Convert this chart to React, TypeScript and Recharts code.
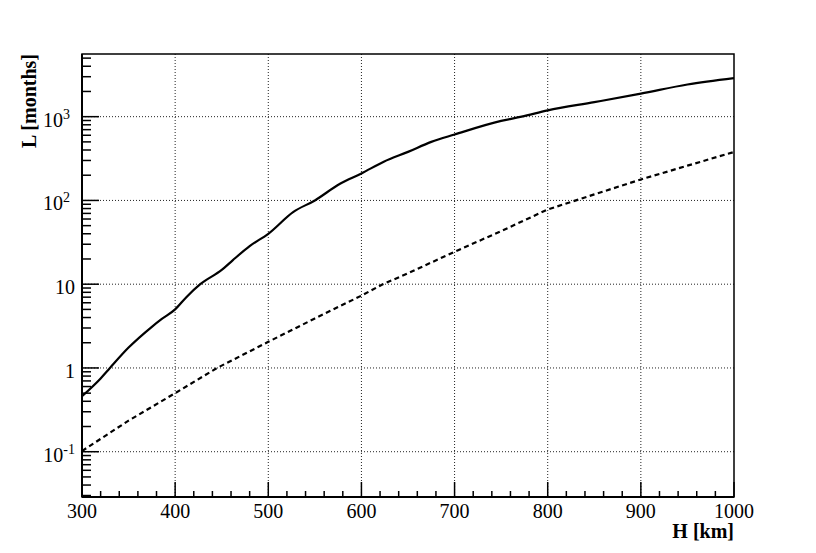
import {
  LineChart,
  Line,
  XAxis,
  YAxis,
  CartesianGrid,
  ReferenceArea,
  Label,
} from 'recharts'

// solid curve
const solidH = [300, 320, 330, 350, 375, 385, 400, 412, 427, 450, 462, 480, 500, 527, 550, 577, 600, 624, 650, 675, 700, 750, 772, 800, 850, 900, 950, 1000]
const solidL = [0.46, 0.75, 1.0, 1.75, 3.1, 3.8, 5.0, 7.0, 10, 14.8, 19.4, 28.5, 40, 73, 100, 158, 210, 290, 380, 500, 612, 890, 1000, 1190, 1490, 1880, 2420, 2880]

// dashed curve
const dashH = [300, 350, 400, 445, 500, 550, 600, 623, 650, 700, 750, 800, 850, 900, 950, 1000]
const dashL = [0.102, 0.235, 0.5, 1.0, 2.05, 3.9, 7.3, 10, 13.5, 24.4, 43, 78, 118, 178, 260, 379]

const xMajorTicks = [300, 400, 500, 600, 700, 800, 900, 1000]
const xMinorSteps = [20, 40, 60, 80]
const yMajorTicks = [0.1, 1, 10, 100, 1000]
const yMinorTicks = [
  0.03, 0.04, 0.05, 0.06, 0.07, 0.08, 0.09,
  0.2, 0.3, 0.4, 0.5, 0.6, 0.7, 0.8, 0.9,
  2, 3, 4, 5, 6, 7, 8, 9,
  20, 30, 40, 50, 60, 70, 80, 90,
  200, 300, 400, 500, 600, 700, 800, 900,
  2000, 3000, 4000, 5000,
]
const yLabels: Record<string, [string, string]> = {
  '0.1': ['10', '-1'],
  '1': ['1', ''],
  '10': ['10', ''],
  '100': ['10', '2'],
  '1000': ['10', '3'],
}

const xDomain: [number, number] = [300, 1000]
const yDomain: [number, number] = [0.0288, 5600]

const solidData = solidH.map((h, i) => ({ H: h, L: solidL[i] }))
const dashData = dashH.map((h, i) => ({ H: h, L: dashL[i] }))
const xMinorTicks = xMajorTicks.slice(0, -1).flatMap((m) => xMinorSteps.map((s) => m + s))
const xTicks = [...xMajorTicks, ...xMinorTicks].sort((a, b) => a - b)
const yTicks = [...yMajorTicks, ...yMinorTicks].sort((a, b) => a - b)

const FONT = '"Liberation Serif", "Times New Roman", serif'

function XTick(props: any) {
  const { x, y, payload } = props
  const major = xMajorTicks.includes(payload.value)
  const len = major ? 15 : 6
  return (
    <g>
      <line x1={x} x2={x} y1={y} y2={y - len} stroke="#000" strokeWidth={1.5} />
      {major && (
        <text x={x} y={y + 21} textAnchor="middle" fontSize={20} fontFamily={FONT} fill="#000">
          {payload.value}
        </text>
      )}
    </g>
  )
}

function YTick(props: any) {
  const { x, y, payload } = props
  const major = yMajorTicks.includes(payload.value)
  const len = major ? 17 : 9
  const lab = yLabels[String(payload.value)]
  const end = lab && lab[1] && lab[1] !== '-1' ? x - 12 : x - 7
  return (
    <g>
      <line x1={x} x2={x + len} y1={y} y2={y} stroke="#000" strokeWidth={1.5} />
      {major && lab && (
        <text x={end} y={y + 10} textAnchor="end" fontSize={20} fontFamily={FONT} fill="#000">
          {lab[0]}
          {lab[1] && (
            <tspan dy={-8} fontSize={14}>
              {lab[1]}
            </tspan>
          )}
        </text>
      )}
    </g>
  )
}

export default function App() {
  return (
    <div
      style={{
        position: 'absolute',
        left: 0,
        top: 0,
        width: 816,
        height: 553,
        background: '#fff',
      }}
    >
      <LineChart width={816} height={553} margin={{ top: 54, right: 82, bottom: 0, left: 0 }}>
        <CartesianGrid
          horizontalValues={yMajorTicks}
          verticalValues={xMajorTicks.slice(1, -1)}
          stroke="#222"
          strokeDasharray="1 2"
          strokeWidth={1}
        />
        <XAxis
          dataKey="H"
          type="number"
          domain={xDomain}
          allowDataOverflow
          ticks={xTicks}
          interval={0}
          height={56}
          tickSize={0}
          tickMargin={0}
          tickLine={false}
          tick={<XTick />}
          axisLine={{ stroke: '#000', strokeWidth: 2 }}
        >
          <Label
            content={(p: any) => (
              <text
                x={p.viewBox.x + p.viewBox.width}
                y={p.viewBox.y + 41}
                textAnchor="end"
                fontSize={20}
                fontWeight="bold"
                fontFamily={FONT}
                fill="#000"
              >
                H [km]
              </text>
            )}
          />
        </XAxis>
        <YAxis
          type="number"
          scale="log"
          domain={yDomain}
          allowDataOverflow
          ticks={yTicks}
          interval={0}
          width={82}
          tickSize={0}
          tickMargin={0}
          tickLine={false}
          tick={<YTick />}
          axisLine={{ stroke: '#000', strokeWidth: 2 }}
        >
          <Label
            content={(p: any) => (
              <text
                x={36}
                y={p.viewBox.y}
                transform={`rotate(-90, 36, ${p.viewBox.y})`}
                textAnchor="end"
                fontSize={20}
                fontWeight="bold"
                fontFamily={FONT}
                fill="#000"
              >
                L [months]
              </text>
            )}
          />
        </YAxis>
        <ReferenceArea
          x1={xDomain[0]}
          x2={xDomain[1]}
          y1={yDomain[0]}
          y2={yDomain[1]}
          fill="none"
          stroke="#000"
          strokeWidth={1.5}
          ifOverflow="visible"
        />
        <Line
          data={solidData}
          dataKey="L"
          type="monotone"
          stroke="#000"
          strokeWidth={2.2}
          dot={false}
          isAnimationActive={false}
        />
        <Line
          data={dashData}
          dataKey="L"
          type="linear"
          stroke="#000"
          strokeWidth={2.2}
          strokeDasharray="5 3.5"
          dot={false}
          isAnimationActive={false}
        />
      </LineChart>
    </div>
  )
}
